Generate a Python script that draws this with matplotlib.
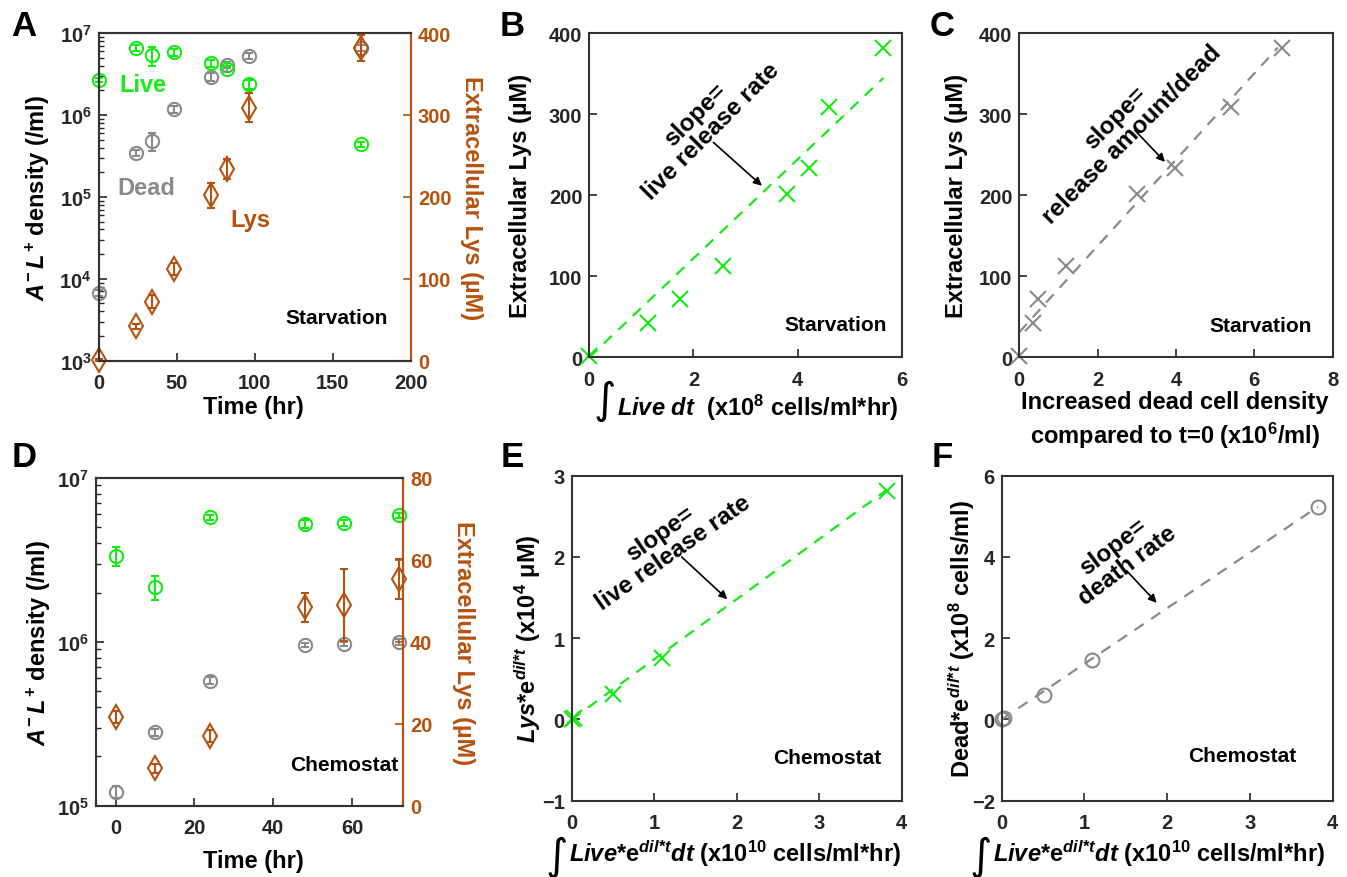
import numpy as np
import matplotlib
matplotlib.use('Agg')
import matplotlib.pyplot as plt
from matplotlib.ticker import LogLocator, NullFormatter

plt.rcParams['font.family'] = 'Liberation Sans'
plt.rcParams['font.weight'] = 'bold'
plt.rcParams['mathtext.fontset'] = 'custom'
plt.rcParams['mathtext.rm'] = 'Liberation Sans:bold'
plt.rcParams['mathtext.it'] = 'Liberation Sans:italic:bold'
plt.rcParams['mathtext.bf'] = 'Liberation Sans:bold'
plt.rcParams['mathtext.sf'] = 'Liberation Sans:bold'

GREEN = '#14ec14'
GRAY = '#8a8a8a'
ORANGE = '#b5520f'
TICK = '#262626'

# ---- starvation data (A, B, C) ----
starv_time = [0, 24, 34, 48, 72, 82, 96, 168]
starv_live = [2.67e6, 6.56e6, 5.38e6, 5.8e6, 4.3e6, 3.63e6, 2.36e6, 4.4e5]
starv_live_err = [0.15e6, 0.5e6, 1.4e6, 0.5e6, 0.4e6, 0.3e6, 0.3e6, 0.03e6]
starv_dead = [6.7e3, 3.43e5, 4.84e5, 1.17e6, 2.93e6, 4.07e6, 5.28e6, 6.56e6]
starv_dead_err = [0.5e3, 0.03e6, 0.12e6, 0.12e6, 0.3e6, 0.35e6, 0.4e6, 0.5e6]
starv_lys = [1, 42, 72, 112, 202, 234, 309, 382]
starv_lys_err = [1, 3, 8, 7, 15, 12, 18, 16]

live_integral = [0, 1.135, 1.744, 2.565, 3.795, 4.21, 4.596, 5.65]
b_fit_x = [0, 5.65]
b_fit_slope = 61.0

dead_increase = [0, 0.357, 0.485, 1.18, 3.0, 3.98, 5.40, 6.70]
c_fit_x = [0, 6.6]
c_fit_slope = 53.2
c_fit_icpt = 31.0

# ---- chemostat data (D, E, F) ----
chemo_time = [0, 10, 24, 48, 58, 72]
chemo_live = [3.36e6, 2.17e6, 5.75e6, 5.24e6, 5.31e6, 5.94e6]
chemo_live_err = [0.45e6, 0.37e6, 0.2e6, 0.3e6, 0.2e6, 0.2e6]
chemo_dead = [1.21e5, 2.8e5, 5.8e5, 9.6e5, 9.7e5, 1.0e6]
chemo_dead_err = [0.1e5, 0.15e5, 0.3e5, 0.3e5, 0.3e5, 0.4e5]
chemo_lys = [21.6, 9.1, 17.1, 48.4, 49.0, 55.3]
chemo_lys_err = [1.5, 1.0, 1.5, 3.6, 8.8, 4.9]

e_x = [0, 0.03, 0.505, 1.09, 3.82]
e_y = [0, 0.02, 0.313, 0.752, 2.815]
e_fit_x = [0, 3.82]
e_fit_slope = 0.74

f_x = [0, 0.03, 0.51, 1.095, 3.82]
f_y = [0, 0.03, 0.61, 1.47, 5.22]
f_fit_x = [0, 3.82]
f_fit_slope = 1.37

W, H = 1347, 878
fig = plt.figure(figsize=(W / 100, H / 100), dpi=100)


def px_axes(x0, y0, x1, y1):
    return fig.add_axes([x0 / W, 1 - y1 / H, (x1 - x0) / W, (y1 - y0) / H])


def ftext(x, y, s, **kw):
    return fig.text(x / W, 1 - y / H, s, **kw)


def style(ax):
    ax.tick_params(which='major', direction='in', length=6, width=1.2,
                   labelsize=14.5, colors=TICK, top=False, right=False, pad=5)
    ax.tick_params(axis='x', which='major', pad=9)
    ax.tick_params(which='minor', direction='in', length=3.5, width=1.0,
                   colors=TICK, top=False, right=False)
    for sp in ax.spines.values():
        sp.set_linewidth(1.5)
        sp.set_color('#333333')


def noclip(container):
    for a in container.get_children():
        a.set_clip_on(False)


def eb(ax, x, y, err, marker, color, ms):
    c = ax.errorbar(x, y, yerr=err, fmt=marker, ms=ms, mfc='none', mec=color,
                    mew=1.5, ecolor=color, elinewidth=1.5, capsize=3, capthick=1.5)
    noclip(c)


def fit_line(ax, xs, slope, icpt, color):
    xs = np.array(xs)
    ax.plot(xs, icpt + slope * xs, color=color, lw=1.6, ls=(0, (5, 4)))


def note(ax, x, y, s, rot, start, head):
    ax.text(x, y, s, rotation=rot, rotation_mode='anchor', ha='center', va='center',
            multialignment='center', fontsize=17.5, linespacing=1.0)
    ax.annotate('', xy=head, xytext=start,
                arrowprops=dict(arrowstyle='-|>', color='k', lw=1.2, mutation_scale=12,
                                shrinkA=0, shrinkB=0))


def integral_label(xi, yi, xt, yt, s):
    ftext(xi, yi, '\u222b', fontsize=31, family='DejaVu Sans', ha='center', va='center',
          style='italic', weight='normal')
    ftext(xt, yt, s, fontsize=17, ha='left', va='center')


def log_left(ax, lo, hi):
    ax.set_yscale('log')
    ax.set_ylim(lo, hi)
    ax.yaxis.set_minor_locator(LogLocator(base=10, subs=np.arange(2, 10), numticks=20))
    ax.yaxis.set_minor_formatter(NullFormatter())


def right_lys(ax, top, step):
    ax2 = ax.twinx()
    ax2.set_ylim(0, top)
    ax2.set_yticks(np.arange(0, top + 1, step))
    ax2.tick_params(axis='y', direction='in', length=6, width=1.2, labelsize=14.5,
                    colors=ORANGE, left=False, right=True, pad=5)
    for name, sp in ax2.spines.items():
        sp.set_linewidth(1.5)
        sp.set_color('#333333')
    ax2.spines['right'].set_color(ORANGE)
    return ax2


# ---------------- A ----------------
axA = px_axes(98.7, 34, 411, 361.7)
style(axA)
log_left(axA, 1e3, 1e7)
axA.set_xlim(0, 200)
axA.set_xticks([0, 50, 100, 150, 200])
eb(axA, starv_time, starv_dead, starv_dead_err, 'o', GRAY, 9.5)
eb(axA, starv_time, starv_live, starv_live_err, 'o', GREEN, 9.5)
axA2 = right_lys(axA, 400, 100)
eb(axA2, starv_time, starv_lys, starv_lys_err, 'd', ORANGE, 12)
ftext(143, 85, 'Live', color=GREEN, fontsize=17, ha='center', va='center')
ftext(146, 189, 'Dead', color=GRAY, fontsize=17, ha='center', va='center')
ftext(250, 220, 'Lys', color=ORANGE, fontsize=17, ha='center', va='center')
ftext(388, 319, 'Starvation', fontsize=15, ha='right', va='center')
ftext(253, 408, 'Time (hr)', fontsize=17, ha='center', va='center')
ftext(38, 198, r'$A^{-}\,L^{+}$ density (/ml)', fontsize=17, rotation=90, ha='center', va='center')
ftext(472, 198, 'Extracellular Lys (\u00b5M)', fontsize=17, rotation=270, ha='center',
      va='center', color=ORANGE)

# ---------------- B ----------------
axB = px_axes(589.3, 34, 901.7, 358.3)
style(axB)
axB.set_xlim(0, 6)
axB.set_ylim(0, 400)
axB.set_xticks([0, 2, 4, 6])
axB.set_yticks([0, 100, 200, 300, 400])
fit_line(axB, b_fit_x, b_fit_slope, 0, GREEN)
axB.plot(live_integral, starv_lys, 'x', color=GREEN, ms=11, mew=1.5, clip_on=False)
note(axB, 2.19, 290, 'slope=\nlive release rate', 45, (2.385, 265), (3.315, 211.6))
ftext(886.7, 326, 'Starvation', fontsize=15, ha='right', va='center')
ftext(520, 196, 'Extracellular Lys (\u00b5M)', fontsize=17, rotation=90, ha='center', va='center')
integral_label(605, 401, 617, 408, r'$Live$ $dt$  (x10$^{8}$ cells/ml*hr)')

# ---------------- C ----------------
axC = px_axes(1019.3, 34, 1332.7, 358.3)
style(axC)
axC.set_xlim(0, 8)
axC.set_ylim(0, 400)
axC.set_xticks([0, 2, 4, 6, 8])
axC.set_yticks([0, 100, 200, 300, 400])
fit_line(axC, c_fit_x, c_fit_slope, c_fit_icpt, GRAY)
axC.plot(dead_increase, starv_lys, 'x', color=GRAY, ms=11, mew=1.5, clip_on=False)
note(axC, 2.655, 285.6, 'slope=\nrelease amount/dead', 45, (2.95, 280), (3.72, 241))
ftext(1311.7, 327, 'Starvation', fontsize=15, ha='right', va='center')
ftext(957, 196, 'Extracellular Lys (\u00b5M)', fontsize=17, rotation=90, ha='center', va='center')
ftext(1175, 421, 'Increased dead cell density\ncompared to t=0 (x10$^{6}$/ml)', fontsize=17,
      ha='center', va='center', linespacing=1.3)

# ---------------- D ----------------
axD = px_axes(96, 479, 403.3, 806.7)
style(axD)
log_left(axD, 1e5, 1e7)
axD.set_xlim(-5, 73)
axD.set_xticks([0, 20, 40, 60])
eb(axD, chemo_time, chemo_dead, chemo_dead_err, 'o', GRAY, 9.5)
eb(axD, chemo_time, chemo_live, chemo_live_err, 'o', GREEN, 9.5)
axD2 = right_lys(axD, 80, 20)
eb(axD2, chemo_time, chemo_lys, chemo_lys_err, 'd', ORANGE, 12)
ftext(398, 766, 'Chemostat', fontsize=15, ha='right', va='center')
ftext(253, 862, 'Time (hr)', fontsize=17, ha='center', va='center')
ftext(39, 643, r'$A^{-}\,L^{+}$ density (/ml)', fontsize=17, rotation=90, ha='center', va='center')
ftext(464, 643, 'Extracellular Lys (\u00b5M)', fontsize=17, rotation=270, ha='center',
      va='center', color=ORANGE)

# ---------------- E ----------------
axE = px_axes(571.7, 476.7, 901.7, 801.7)
style(axE)
axE.set_xlim(0, 4)
axE.set_ylim(-1, 3)
axE.set_xticks([0, 1, 2, 3, 4])
axE.set_yticks([-1, 0, 1, 2, 3])
fit_line(axE, e_fit_x, e_fit_slope, 0, GREEN)
axE.plot(e_x, e_y, 'x', color=GREEN, ms=11, mew=1.5, clip_on=False)
note(axE, 1.15, 2.18, 'slope=\nlive release rate', 35, (1.333, 2.0), (1.886, 1.48))
ftext(881.7, 759, 'Chemostat', fontsize=15, ha='right', va='center')
ftext(528, 639, r'$Lys$*e$^{dil{*}t}$ (x10$^{4}$ $\mathrm{\mu}$M)', fontsize=17, rotation=90,
      ha='center', va='center')
integral_label(557, 857, 569, 854, r'$Live$*e$^{dil{*}t}$$dt$ (x10$^{10}$ cells/ml*hr)')

# ---------------- F ----------------
axF = px_axes(1001.7, 476.7, 1332.7, 801.7)
style(axF)
axF.set_xlim(0, 4)
axF.set_ylim(-2, 6)
axF.set_xticks([0, 1, 2, 3, 4])
axF.set_yticks([-2, 0, 2, 4, 6])
fit_line(axF, f_fit_x, f_fit_slope, 0, GRAY)
axF.plot(f_x, f_y, 'o', color=GRAY, mfc='none', ms=10, mew=1.5, clip_on=False)
note(axF, 1.43, 4.03, 'slope=\ndeath rate', 37, (1.51, 3.66), (1.873, 2.87))
ftext(1296, 757, 'Chemostat', fontsize=15, ha='right', va='center')
ftext(962, 639, r'Dead*e$^{dil{*}t}$ (x10$^{8}$ cells/ml)', fontsize=17, rotation=90,
      ha='center', va='center')
integral_label(981, 857, 993, 854, r'$Live$*e$^{dil{*}t}$$dt$ (x10$^{10}$ cells/ml*hr)')

# panel letters
for letter, x, y in [('A', 24, 26), ('B', 512, 26), ('C', 942, 26),
                     ('D', 24, 458), ('E', 512, 458), ('F', 942, 458)]:
    ftext(x, y, letter, fontsize=25, ha='center', va='center')

fig.savefig('out.png', dpi=100)
